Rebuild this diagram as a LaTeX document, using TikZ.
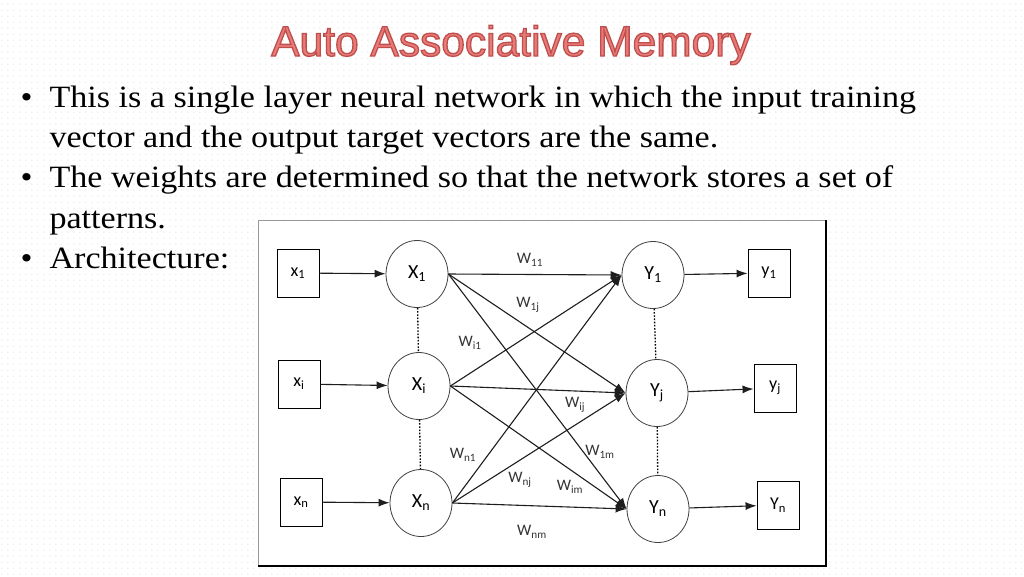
\documentclass[tikz,border=0pt]{standalone}
\usepackage{fontspec}
\setmainfont[FakeStretch=1.1]{Liberation Serif}
\newfontfamily\headfont{Liberation Sans}
\newfontfamily\netfont{Carlito}
\usetikzlibrary{arrows.meta,shapes.geometric,patterns.meta}

\definecolor{headfill}{RGB}{232,122,120}
\definecolor{wirecol}{RGB}{30,30,30}
\definecolor{dotcol}{RGB}{200,204,214}

\tikzdeclarepattern{
  name=dotgrid,
  type=uncolored,
  bounding box={(0,0) and (6.4pt,6.4pt)},
  tile size={(6.4pt,6.4pt)},
  code={\fill (3.2pt,3.2pt) circle (0.6pt);}
}

\begin{document}
\begin{tikzpicture}[x=1pt,y=-1pt,
    line/.style={anchor=base west, font=\fontsize{31}{40}\selectfont},
    unitbox/.style={draw, line width=0.9, minimum width=42, minimum height=48, inner sep=0,
      font=\netfont\fontsize{18}{18}\selectfont},
    neuron/.style={draw, ellipse, line width=0.8, draw=black!75, minimum width=62, minimum height=67,
      inner sep=0, font=\netfont\fontsize{20}{20}\selectfont},
    wire/.style={line width=1.1, draw=wirecol, -{Latex[length=11,width=8]}},
    gap/.style={line width=1.3, dash pattern=on 1.6 off 1.6},
    weight/.style={font=\netfont\fontsize{16}{16}\selectfont, text=black!80}]
    \useasboundingbox (0,0) rectangle (1024,576);
    \fill[pattern=dotgrid, pattern color=dotcol] (0,0) rectangle (1024,576);

    % title and bullets
    \node[font=\headfont\fontsize{42.5}{44}\selectfont, text=headfill, anchor=base] (head) at (511,56)
      {\special{pdf:literal direct 2 Tr 1.3 w 0.75 0.31 0.30 RG}Auto Associative Memory\special{pdf:literal direct 0 Tr}};
    \node[line] (b1) at (17,107) {\textbullet};
    \node[line] (l1) at (46,107) {This is a single layer neural network in which the input training};
    \node[line] (l2) at (46,147) {vector and the output target vectors are the same.};
    \node[line] (b2) at (17,187) {\textbullet};
    \node[line] (l3) at (46,187) {The weights are determined so that the network stores a set of};
    \node[line] (l4) at (46,228) {patterns.};
    \node[line] (b3) at (17,268) {\textbullet};
    \node[line] (l5) at (46,268) {Architecture:};

    % frame of the figure
    \fill[white] (258,220) rectangle (826,566);
    \draw[black!40, line width=0.8] (258,566) -- (258,220) -- (826,220);
    \draw[line width=1.6] (826,220) -- (826,566) -- (258,566);

    \node[unitbox] (x1) at (298,273) {x\textsubscript{1}};
    \node[unitbox] (xi) at (299,384) {x\textsubscript{i}};
    \node[unitbox] (xn) at (301,502) {x\textsubscript{n}};

    \node[neuron] (X1) at (417,274) {X\textsubscript{1}};
    \node[neuron] (Xi) at (419,386) {X\textsubscript{i}};
    \node[neuron] (Xn) at (421,503) {X\textsubscript{n}};

    \node[neuron] (Y1) at (653,275) {Y\textsubscript{1}};
    \node[neuron] (Yj) at (657,393) {Y\textsubscript{j}};
    \node[neuron] (Yn) at (658,509) {Y\textsubscript{n}};

    \node[unitbox] (y1) at (769,273) {y\textsubscript{1}};
    \node[unitbox] (yj) at (775,388) {y\textsubscript{j}};
    \node[unitbox] (yn) at (778,505) {Y\textsubscript{n}};

    \draw[wire] (x1) -- (X1);
    \draw[wire] (xi) -- (Xi);
    \draw[wire] (xn) -- (Xn);
    \draw[wire] (Y1) -- (y1);
    \draw[wire] (Yj) -- (yj);
    \draw[wire] (Yn) -- (yn);

    \foreach \a in {X1,Xi,Xn}
      \foreach \b in {Y1,Yj,Yn}
        \draw[wire] (\a.east) -- (\b.west);

    \draw[gap] (X1) -- (Xi);
    \draw[gap] (Xi) -- (Xn);
    \draw[gap] (Y1) -- (Yj);
    \draw[gap] (Yj) -- (Yn);

    \node[weight] (w11) at (530,260) {W\textsubscript{11}};
    \node[weight] (w1j) at (528,305) {W\textsubscript{1j}};
    \node[weight] (wi1) at (470,343) {W\textsubscript{i1}};
    \node[weight] (wij) at (575,405) {W\textsubscript{ij}};
    \node[weight] (w1m) at (600,452) {W\textsubscript{1m}};
    \node[weight] (wn1) at (463,455) {W\textsubscript{n1}};
    \node[weight] (wnj) at (520,480) {W\textsubscript{nj}};
    \node[weight] (wim) at (570,487) {W\textsubscript{im}};
    \node[weight] (wnm) at (532,532) {W\textsubscript{nm}};
\end{tikzpicture}
\end{document}
